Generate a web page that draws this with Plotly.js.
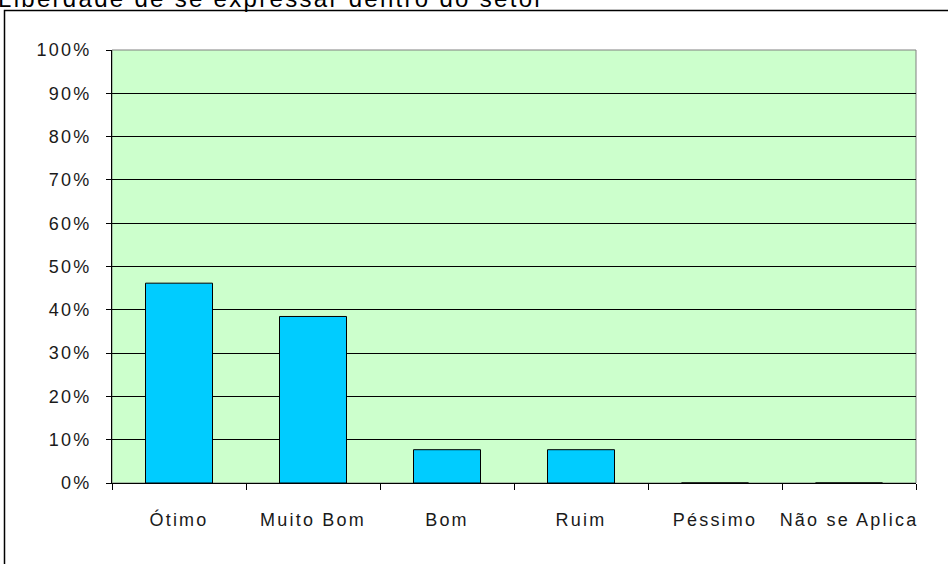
<!DOCTYPE html>
<html><head><meta charset="utf-8">
<script src="https://cdn.plot.ly/plotly-3.0.1.min.js"></script>
<style>
html,body{margin:0;padding:0;background:#fff;}
#chart{width:948px;height:564px;}
#chart .xtick text, #chart .ytick text{letter-spacing:2.2px;}
#chart .annotation-text{letter-spacing:2.3px;}
</style>
</head><body><div id="chart"></div>
<script>
const categories = ["Ótimo", "Muito Bom", "Bom", "Ruim", "Péssimo", "Não se Aplica"];
const values = [0.4615, 0.3846, 0.0769, 0.0769, 0, 0];
const yTickVals = [0, 0.1, 0.2, 0.3, 0.4, 0.5, 0.6, 0.7, 0.8, 0.9, 1.0];
const yTickText = ["0%", "10%", "20%", "30%", "40%", "50%", "60%", "70%", "80%", "90%", "100%"];
const titleText = "Liberdade de se expressar dentro do setor";

const W = 948, H = 564, L = 112, R = 32, T = 50, B = 81;
const pw = W - L - R, ph = H - T - B;
const px = v => (v - L) / pw;
const py = v => (H - B - v) / ph;

Plotly.newPlot('chart', [{
  type: 'bar', x: categories, y: values, width: 0.5,
  marker: {color: '#00ccff', line: {color: '#000', width: 1}},
  hoverinfo: 'none'
}], {
  width: W, height: H,
  margin: {l: L, r: R, t: T, b: B, pad: 0},
  paper_bgcolor: '#fff', plot_bgcolor: '#ccffcc',
  font: {family: 'Liberation Sans, Arial, sans-serif', size: 18, color: '#1a1a1a'},
  showlegend: false,
  xaxis: {type: 'category', tickson: 'boundaries', ticks: 'outside', ticklen: 6, tickcolor: '#000',
          showline: true, linecolor: '#000', linewidth: 1, showgrid: false, zeroline: false,
          ticklabelstandoff: 20, range: [-0.5, 5.5], fixedrange: true},
  yaxis: {range: [0, 1], tickvals: yTickVals, ticktext: yTickText, ticks: 'outside', ticklen: 5,
          tickcolor: '#000', showline: true, linecolor: '#000', linewidth: 1,
          showgrid: true, gridcolor: '#000', gridwidth: 1, zeroline: false,
          ticklabelstandoff: 11, fixedrange: true},
  shapes: [
    {type: 'rect', xref: 'paper', yref: 'paper', x0: 0, x1: 1, y0: 0, y1: 1,
     line: {color: '#808080', width: 1}, fillcolor: 'rgba(0,0,0,0)', layer: 'below'},
    {type: 'rect', xref: 'paper', yref: 'paper', x0: px(4.5), x1: px(960), y0: py(575), y1: py(10.5),
     line: {color: '#000', width: 1.5}, fillcolor: 'rgba(0,0,0,0)'}
  ],
  annotations: [{
    text: titleText, xref: 'paper', yref: 'paper', x: px(-4), y: py(14), xanchor: 'left', yanchor: 'bottom',
    align: 'left', showarrow: false,
    font: {size: 24, color: '#000', family: 'Liberation Sans, Arial, sans-serif'}
  }]
}, {displayModeBar: false, staticPlot: true});
</script></body></html>
